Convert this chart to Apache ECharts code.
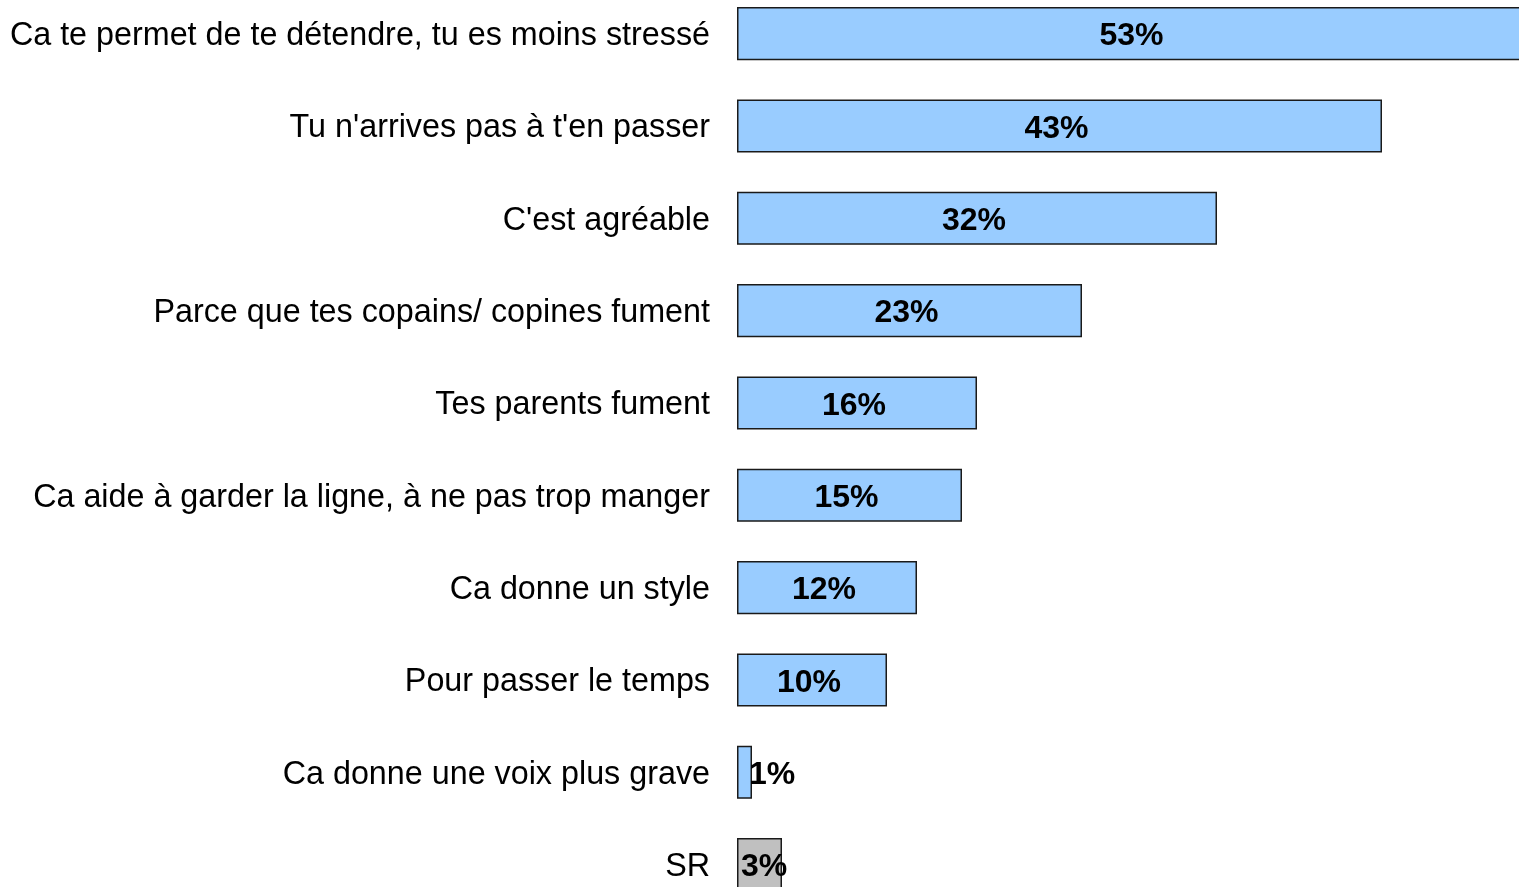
<!DOCTYPE html>
<html><head><meta charset="utf-8">
<script src="https://cdn.jsdelivr.net/npm/echarts@6/dist/echarts.min.js"></script>
<style>html,body{margin:0;padding:0;background:#fff}#c{width:1519px;height:887px}</style>
</head><body><div id="c"></div>
<script>
const categories = [
  "Ca te permet de te détendre, tu es moins stressé",
  "Tu n'arrives pas à t'en passer",
  "C'est agréable",
  "Parce que tes copains/ copines fument",
  "Tes parents fument",
  "Ca aide à garder la ligne, à ne pas trop manger",
  "Ca donne un style",
  "Pour passer le temps",
  "Ca donne une voix plus grave",
  "SR"
];
const values = [53, 43, 32, 23, 16, 15, 12, 10, 1, 3];
const barColors = ["#99ccff","#99ccff","#99ccff","#99ccff","#99ccff","#99ccff","#99ccff","#99ccff","#99ccff","#c0c0c0"];
const labelDist = [null,null,null,null,null,null,null,null,12,4];

const chart = echarts.init(document.getElementById('c'), null, {renderer:'canvas'});
chart.setOption({
  animation:false,
  grid:{left:737, top:-12.5, width:900, height:923.3, containLabel:false, outerBoundsMode:'none'},
  xAxis:{type:'value', min:0, max:60, show:false},
  yAxis:{type:'category', data:categories, inverse:true,
    axisLine:{show:false}, axisTick:{show:false}, splitLine:{show:false},
    axisLabel:{fontFamily:'Liberation Sans, Arial, sans-serif', fontSize:32.3, color:'#000', margin:27,
      formatter: v => '{a|' + v + '}',
      rich:{a:{fontFamily:'Liberation Sans, Arial, sans-serif', fontSize:32.3, color:'#000', padding:[5,0,0,0]}}}
  },
  series:[{
    type:'bar', barCategoryGap:'42.5%', clip:false,
    data: values.map((v,i)=>{
      const d = {value:v, itemStyle:{color:barColors[i]}};
      if(labelDist[i]!==null){ d.label={position:'insideLeft', distance:labelDist[i], offset:[0,3]}; }
      return d;
    }),
    itemStyle:{borderColor:'#1a1a1a', borderWidth:1.5},
    label:{show:true, position:'inside', formatter:'{c}%', fontFamily:'Liberation Sans, Arial, sans-serif',
      fontSize:32, fontWeight:'bold', color:'#000', textBorderWidth:0, offset:[-3,3]}
  }]
});
</script></body></html>
